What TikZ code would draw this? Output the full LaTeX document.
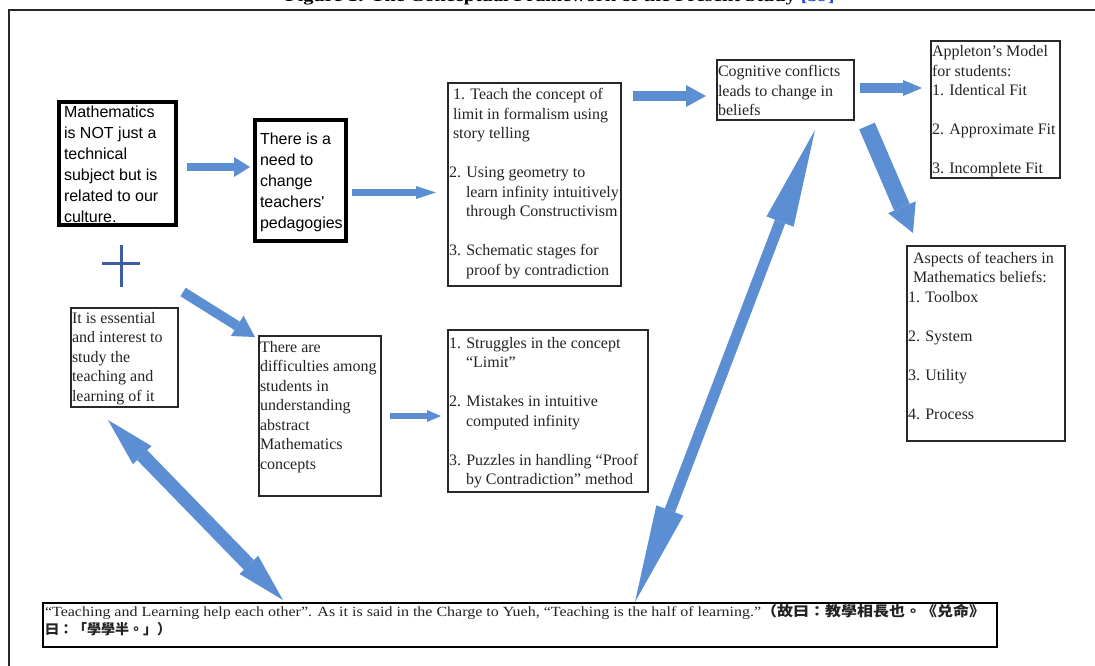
\documentclass[tikz,border=0pt]{standalone}
\usepackage{fontspec}
\setmainfont{Liberation Serif}
\newfontfamily\sansA{Liberation Sans}
\newfontfamily\cjk{Noto Sans CJK TC}
\usepackage{graphicx}
\usetikzlibrary{arrows.meta}
\definecolor{arrblue}{RGB}{92,142,212}
\definecolor{plusblue}{RGB}{60,95,160}
\definecolor{boxc}{RGB}{40,40,40}
\definecolor{txtc}{RGB}{35,35,35}
\definecolor{refblue}{RGB}{40,60,220}
\newcommand\fsS{\fontsize{16pt}{19.5pt}\selectfont}
\newcommand\fsA{\sansA\fontsize{16pt}{21pt}\selectfont}
\newcommand\fsJ{\fontsize{14pt}{17pt}\selectfont}
\newcommand\boxtxt[5]{\parbox[t][#2][t]{#1}{\raggedright\leftskip=#4\relax\vspace*{\dimexpr#3-\ht\strutbox\relax}\strut#5}}
\newcommand\blankln{\\[19.5pt]}
\begin{document}
\begin{tikzpicture}[x=1pt,y=-1pt,
  bx/.style={draw=boxc, line width=1.6pt, anchor=north west, inner sep=0pt, outer sep=0pt, text=txtc, font=\fsS},
  thickbx/.style={bx, draw=black, line width=4pt, text=black, font=\fsA},
  blk/.style n args={3}{draw=arrblue, line width=#1, -{Triangle[width=#2,length=#3,line width=0pt]}},
  dbl/.style n args={3}{draw=arrblue, line width=#1, {Triangle[width=#2,length=#3,line width=0pt]}-{Triangle[width=#2,length=#3,line width=0pt]}}]
\useasboundingbox (0,0) rectangle (1095,666);
% caption (cut off at top, as in the reference)
\node[anchor=base, font=\bfseries\fontsize{16pt}{19pt}\selectfont, text=black, inner sep=0pt] (cap) at (560,1.5)
  {\resizebox{549pt}{\height}{Figure 1: The Conceptual Framework of the Present Study \textcolor{refblue}{[39]}}};
% frame
\draw[line width=2pt, boxc] (9,666) -- (9,10) -- (1095,10);
% boxes
\node[thickbx] (A) at (59,102) {\boxtxt{117pt}{123pt}{16pt}{5pt}{Mathematics\\is NOT just a\\technical\\subject but is\\related to our\\culture.}};
\node[thickbx] (B) at (255,120) {\boxtxt{91pt}{121pt}{25pt}{5pt}{There is a\\need to\\change\\teachers'\\pedagogies}};
\node[bx] (C) at (448,83) {\boxtxt{173pt}{203pt}{17pt}{1pt}{%
\hspace*{4pt}1. Teach the concept of\\
\hspace*{4pt}limit in formalism using\\
\hspace*{4pt}story telling\blankln
2. Using geometry to\\
\hspace*{17pt}learn infinity intuitively\\
\hspace*{17pt}through Constructivism\blankln
3. Schematic stages for\\
\hspace*{17pt}proof by contradiction}};
\node[bx] (D) at (717,60) {\boxtxt{137pt}{60pt}{17pt}{1pt}{Cognitive conflicts\\leads to change in\\beliefs}};
\node[bx] (E) at (931,41) {\boxtxt{129pt}{137pt}{16pt}{1pt}{Appleton’s Model\\for students:\\1. Identical Fit\blankln 2. Approximate Fit\blankln 3. Incomplete Fit}};
\node[bx] (F) at (907,246) {\boxtxt{158pt}{195pt}{17pt}{1pt}{\hspace*{5pt}Aspects of teachers in\\\hspace*{5pt}Mathematics beliefs:\\1. Toolbox\blankln 2. System\blankln 3. Utility\blankln 4. Process}};
\node[bx] (G) at (71,308) {\boxtxt{107pt}{99pt}{15pt}{1pt}{It is essential\\and interest to\\study the\\teaching and\\learning of it}};
\node[bx] (H) at (259,336) {\boxtxt{122pt}{160pt}{16pt}{1pt}{There are\\difficulties among\\students in\\understanding\\abstract\\Mathematics\\concepts}};
\node[bx] (I) at (448,330) {\boxtxt{200pt}{162pt}{18pt}{1pt}{%
1. Struggles in the concept\\
\hspace*{17pt}“Limit”\blankln
2. Mistakes in intuitive\\
\hspace*{17pt}computed infinity\blankln
3. Puzzles in handling “Proof\\
\hspace*{17pt}by Contradiction” method}};
\node[bx, draw=black, line width=2pt, font=\fsJ] (J) at (43,603) {\boxtxt{954pt}{44pt}{13pt}{2pt}{%
\resizebox{940pt}{\height}{“Teaching and Learning help each other”. As it is said in the Charge to Yueh, “Teaching is the half of learning.”{\cjk\bfseries （故曰：教學相長也。《兑命》}}\\
{\cjk\bfseries 曰：「學學半。」）}}};
% plus sign
\draw[plusblue, line width=3pt] (102,263) -- (140,263) (121,245) -- (121,287);
% connectors
\draw[blk={8pt}{20pt}{16pt}, shorten <=11pt, shorten >=5pt] ([yshift=-3.5pt]A.east) -- ([yshift=-3.5pt]A.east -| B.west);
\draw[blk={7pt}{13pt}{20pt}, shorten <=6pt, shorten >=12pt] ([yshift=-12pt]B.east) -- ([yshift=-12pt]B.east -| C.west);
\draw[blk={10pt}{22pt}{20pt}, shorten <=12pt, shorten >=11pt] ([yshift=-6pt]D.west -| C.east) -- ([yshift=-6pt]D.west);
\draw[blk={10pt}{16pt}{19pt}, shorten <=6pt, shorten >=9pt] ([yshift=2pt]D.east) -- ([yshift=2pt]D.east -| E.west);
\draw[blk={17pt}{30pt}{28pt}] ([xshift=13pt,yshift=-6pt]D.south east) -- ([xshift=6pt,yshift=13pt]F.north west);
\draw[blk={10pt}{24pt}{21pt}] ([xshift=5pt,yshift=16pt]G.north east) -- ([xshift=-4pt,yshift=-1pt]H.north west);
\draw[blk={6pt}{12pt}{14pt}, shorten <=9pt, shorten >=7pt] (H.east) -- (H.east -| I.west);
\draw[dbl={14pt}{26pt}{49pt}] ([xshift=-16.5pt,yshift=-13pt]G.south) -- ([xshift=240pt,yshift=3pt]J.north west);
\draw[dbl={11pt}{29pt}{98pt}] ([xshift=592pt,yshift=1pt]J.north west) -- ([xshift=29.5pt,yshift=-10pt]D.south);
\end{tikzpicture}
\end{document}
